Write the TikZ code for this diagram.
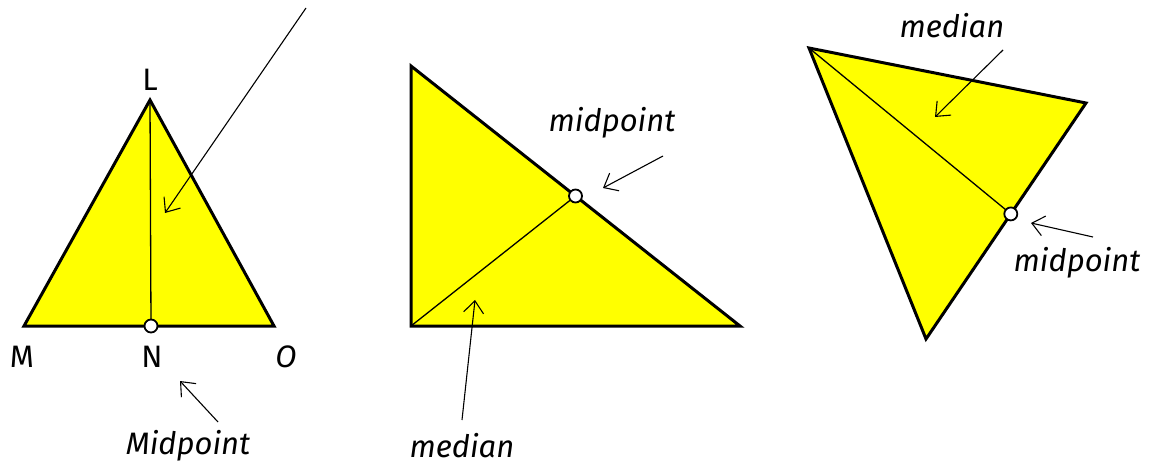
\documentclass[tikz,border=0pt]{standalone}
\usepackage{fontspec}
\setmainfont{Fira Sans}
\usetikzlibrary{arrows.meta,calc}
\definecolor{triyellow}{RGB}{255,255,0}
\tikzset{
  tri/.style={draw=black,fill=triyellow,line width=3pt,line join=miter},
  medianline/.style={draw=black,line width=1.3pt},
  pointer/.style={draw=black,line width=1.1pt,-{Straight Barb[length=12pt,width=20pt,line width=1.1pt]}},
  mid/.style={circle,draw=black,fill=white,line width=1.8pt,inner sep=0pt,minimum size=13pt},
  lbl/.style={font=\fontsize{31}{36}\selectfont,inner sep=0pt},
  ilbl/.style={lbl,font=\fontsize{31}{36}\selectfont\itshape}
}
\begin{document}
\begin{tikzpicture}[x=1pt,y=-1pt]
\useasboundingbox (0,0) rectangle (1159,470);
% triangle 1
\coordinate (L) at (150,100);
\coordinate (M) at (24,326);
\coordinate (O) at (274,326);
\coordinate (N) at (151,326);
\draw[tri] (L) -- (M) -- (O) -- cycle;
\draw[medianline] (L) -- (N);
\node[mid] (Nc) at (N) {};
\node[lbl] (tL) at (150,80) {L};
\node[lbl] (tM) at (22,357) {M};
\node[lbl] (tN) at (152,357) {N};
\node[ilbl] (tO) at (286,357) {O};
\node[ilbl] (tMid1) at (188,446) {Midpoint};
\coordinate (a1s) at (306,8);
\coordinate (a1e) at (165,213);
\draw[pointer] (a1s) -- (a1e);
\coordinate (a2s) at (218,422);
\coordinate (a2e) at (180,381);
\draw[pointer] (a2s) -- (a2e);
% triangle 2
\coordinate (P) at (411,66);
\coordinate (Q) at (411,326);
\coordinate (R) at (740,326);
\draw[tri] (P) -- (Q) -- (R) -- cycle;
\coordinate (S) at ($(P)!0.5!(R)$);
\draw[medianline] (Q) -- (S);
\node[mid] (Sc) at (S) {};
\node[ilbl] (tMid2) at (612,123) {midpoint};
\node[ilbl] (tMed2) at (462,446) {median};
\coordinate (b1s) at (663,156);
\coordinate (b1e) at (603,188);
\draw[pointer] (b1s) -- (b1e);
\coordinate (b2s) at (462,420);
\coordinate (b2e) at (475,300);
\draw[pointer] (b2s) -- (b2e);
% triangle 3
\coordinate (A) at (809,48);
\coordinate (B) at (1086,103);
\coordinate (C) at (926,339);
\draw[tri] (A) -- (B) -- (C) -- cycle;
\coordinate (D) at ($(B)!0.47!(C)$);
\draw[medianline] (A) -- (D);
\node[mid] (Dc) at (D) {};
\node[ilbl] (tMed3) at (952,26) {median};
\node[ilbl] (tMid3) at (1077,263) {midpoint};
\coordinate (c1s) at (1003,50);
\coordinate (c1e) at (935,117);
\draw[pointer] (c1s) -- (c1e);
\coordinate (c2s) at (1093,237);
\coordinate (c2e) at (1031,223);
\draw[pointer] (c2s) -- (c2e);
\end{tikzpicture}
\end{document}
